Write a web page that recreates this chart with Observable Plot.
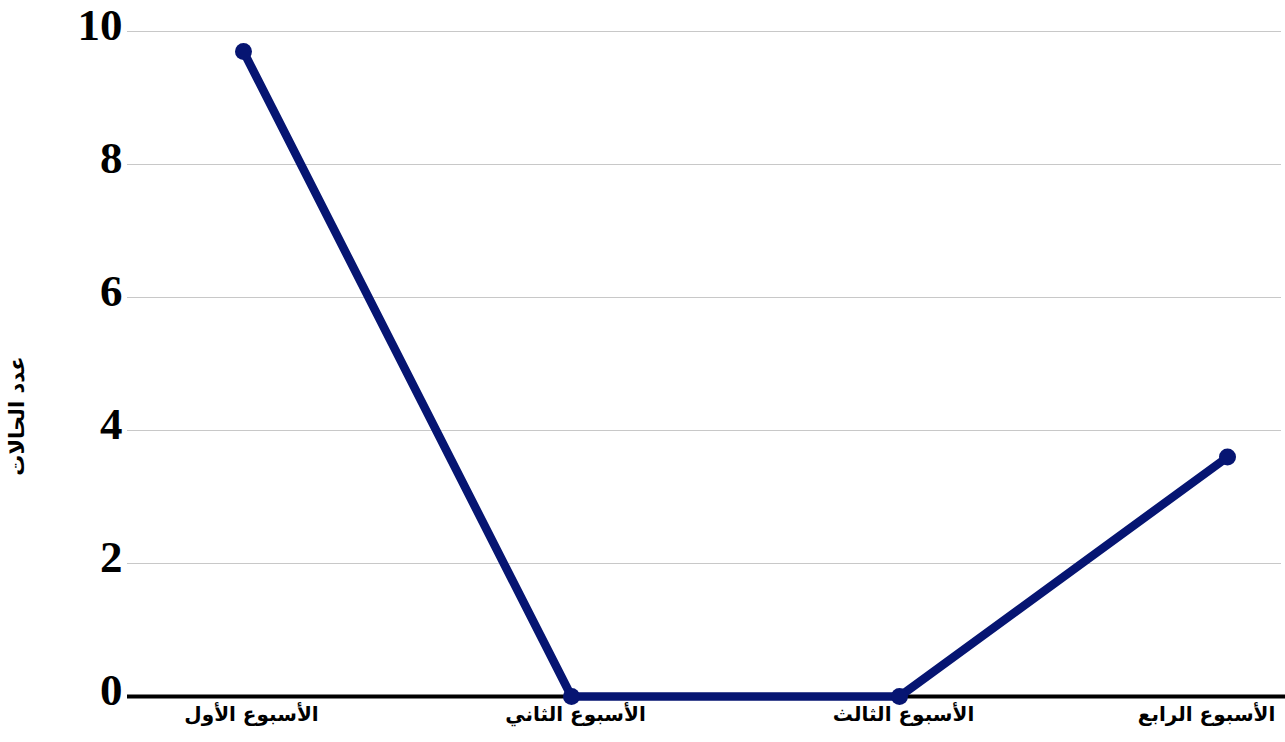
<!DOCTYPE html>
<html>
<head>
<meta charset="utf-8">
<script src="https://cdn.jsdelivr.net/npm/d3@7"></script>
<script src="https://cdn.jsdelivr.net/npm/@observablehq/plot@0.6"></script>
<style>
  html, body { margin: 0; padding: 0; background: #fff; }
</style>
</head>
<body>
<div id="chart"></div>
<script>
const weeks = ["الأسبوع الأول", "الأسبوع الثاني", "الأسبوع الثالث", "الأسبوع الرابع"];
const cases = [9.7, 0, 0, 3.6];
const yTicks = [0, 2, 4, 6, 8, 10];
const yLabel = "عدد الحالات";

const data = weeks.map((w, i) => ({week: w, value: cases[i]}));
const lineColor = "#061572";
const xLabelStyle = {
  tickSize: 0, tickPadding: 10, fontSize: 20, fontWeight: "bold",
  fill: "#000", label: null,
  fontFamily: "'DejaVu Sans', sans-serif"
};

const chart = Plot.plot({
  width: 1285,
  height: 742,
  marginLeft: 127,
  marginRight: 4,
  marginTop: 31,
  marginBottom: 46,
  style: {fontFamily: "'Liberation Serif', 'DejaVu Sans', serif", background: "#fff"},
  x: {type: "point", domain: weeks, padding: 0, insetLeft: 115, insetRight: 53},
  y: {domain: [0, 10]},
  marks: [
    Plot.gridY(yTicks, {stroke: "#c8c8c8", strokeOpacity: 1, strokeWidth: 1}),
    Plot.axisY(yTicks, {
      tickSize: 0, tickPadding: 5, fontSize: 45, fontWeight: "bold",
      fill: "#000", dy: -6, label: null, tickFormat: d => String(d),
      fontFamily: "'Liberation Serif', serif"
    }),
    Plot.axisX(weeks.slice(0, 1), {...xLabelStyle, dx: 8}),
    Plot.axisX(weeks.slice(1, 3), {...xLabelStyle, dx: 4}),
    Plot.axisX(weeks.slice(3), {...xLabelStyle, dx: -21}),
    Plot.text([yLabel], {
      frameAnchor: "left", textAnchor: "middle", dx: -110, dy: 52, rotate: -90, fontSize: 21,
      fontWeight: "bold", fill: "#000",
      fontFamily: "'DejaVu Sans', sans-serif"
    }),
    Plot.ruleY([0], {stroke: "#000", strokeWidth: 4, insetRight: -4}),
    Plot.line(data, {x: "week", y: "value", stroke: lineColor, strokeWidth: 8.5, strokeLinejoin: "round"}),
    Plot.dot(data, {x: "week", y: "value", fill: lineColor, r: 8.5, stroke: "none"})
  ]
});
document.getElementById("chart").appendChild(chart);
</script>
</body>
</html>
